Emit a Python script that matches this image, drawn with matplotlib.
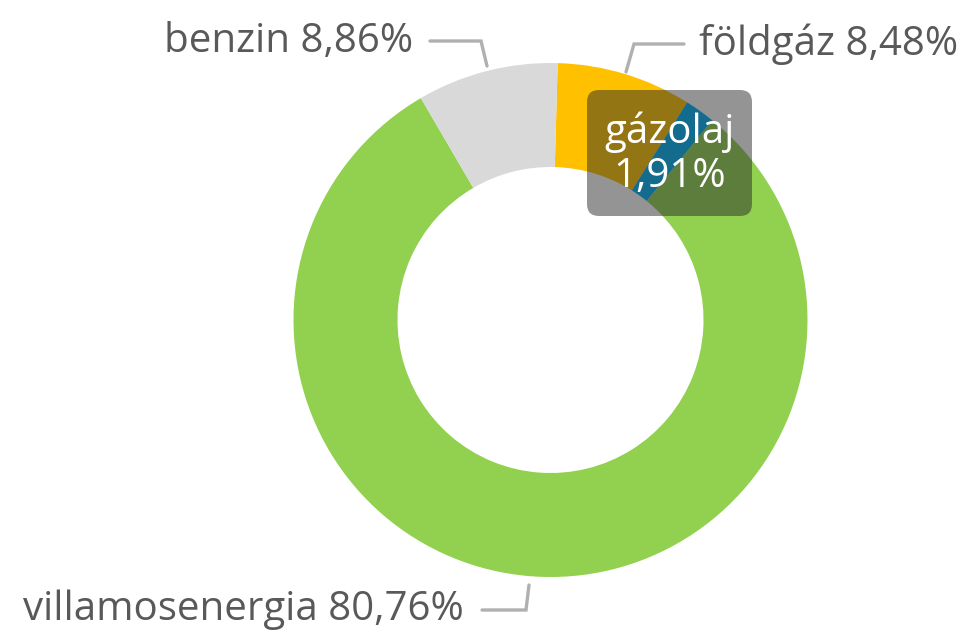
import numpy as np
import matplotlib.pyplot as plt
from matplotlib.patches import FancyBboxPatch

plt.rcParams['font.family'] = ['Open Sans', 'DejaVu Sans']

labels = ["földgáz", "gázolaj", "villamosenergia", "benzin"]
values = [8.48, 1.91, 80.76, 8.86]
colors = ["#FFC000", "#00B0F0", "#92D050", "#D9D9D9"]

W, H = 967, 642
fig = plt.figure(figsize=(W / 100, H / 100), dpi=100)
ax = fig.add_axes([0, 0, 1, 1])

cx, cy, r = 550.5, H - 320, 257
ax.pie(values, colors=colors, startangle=88.4, counterclock=False,
       center=(cx, cy), radius=r, frame=True,
       wedgeprops=dict(width=104, linewidth=0))
ax.set_xlim(0, W)
ax.set_ylim(0, H)
ax.set_aspect('equal')
ax.axis('off')

def pct(v):
    return f"{v:.2f}".replace(".", ",") + "%"

txt_col = "#595959"
line_col = "#B0B0B0"
fs = 29

# leader lines (image coords -> flip y)
def leader(pts):
    xs = [p[0] for p in pts]
    ys = [H - p[1] for p in pts]
    ax.plot(xs, ys, color=line_col, lw=2.4, solid_capstyle='round',
            solid_joinstyle='miter')

leader([(626, 72), (634, 44), (684, 44)])
ax.text(699, H - 44, f"{labels[0]} {pct(values[0])}", color=txt_col,
        fontsize=fs, ha='left', va='center')

leader([(487, 66), (481, 41), (430, 41)])
ax.text(413, H - 42, f"{labels[3]} {pct(values[3])}", color=txt_col,
        fontsize=fs, ha='right', va='center')

leader([(529, 585), (526, 610), (482, 610)])
ax.text(464, H - 610, f"{labels[2]} {pct(values[2])}", color=txt_col,
        fontsize=fs, ha='right', va='center')

# gázolaj data label in dark box
box = FancyBboxPatch((587 + 12, H - 216 + 12), 165 - 24, 126 - 24,
                     boxstyle="round,pad=12", fc="#282828", ec="none",
                     alpha=0.494)
ax.add_patch(box)
ax.text(670, H - 132, labels[1], color="white", fontsize=fs,
        ha='center', va='center')
ax.text(670, H - 177, pct(values[1]), color="white", fontsize=fs,
        ha='center', va='center')

fig.savefig("out.png", dpi=100)
